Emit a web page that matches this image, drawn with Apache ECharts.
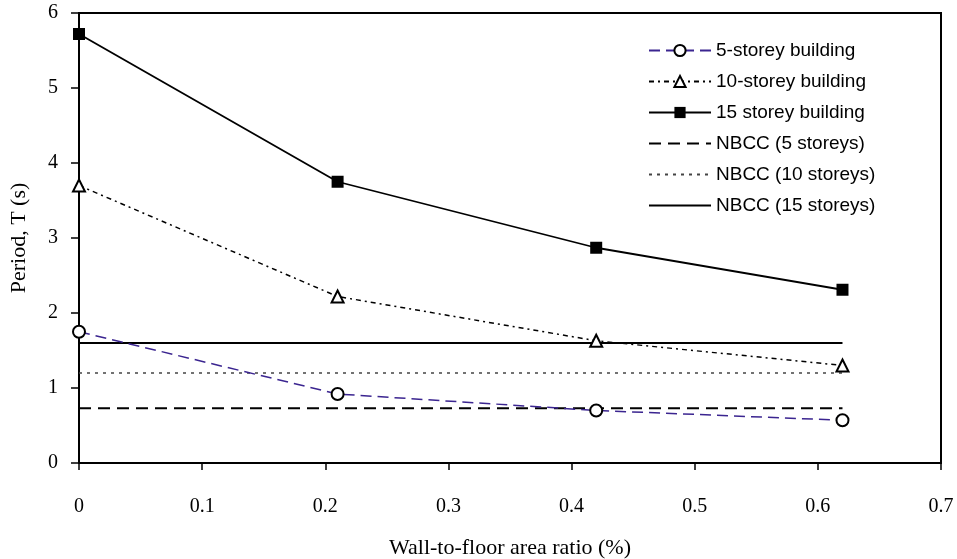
<!DOCTYPE html>
<html>
<head>
<meta charset="utf-8">
<script src="https://cdn.jsdelivr.net/npm/echarts@6/dist/echarts.min.js"></script>
<style>
  html, body { margin: 0; padding: 0; background: #fff; }
  #main { width: 957px; height: 559px; }
</style>
</head>
<body>
<div id="main"></div>
<script>
// wall-to-floor area ratio (%)
var ratios = [0, 0.21, 0.42, 0.62];
var storey5 = [1.75, 0.92, 0.70, 0.57];
var storey10 = [3.70, 2.22, 1.63, 1.30];
var storey15 = [5.72, 3.75, 2.87, 2.31];
// NBCC code values, drawn flat across the range
var nbccX = [0, 0.62];
var nbcc5 = 0.73;
var nbcc10 = 1.20;
var nbcc15 = 1.60;

function pairs(xs, ys) {
	return xs.map(function (x, i) { return [x, ys[i]]; });
}
function flat(xs, v) {
	return xs.map(function (x) { return [x, v]; });
}

var myChart = echarts.init(document.getElementById('main'));
var serif = '"Liberation Serif", "Times New Roman", serif';
var sans = '"Liberation Sans", Arial, sans-serif';
// plain line in the legend, no marker
var noMark = { color: 'rgba(0,0,0,0)', borderWidth: 0 };

var option = {
	animation: false,
	backgroundColor: '#fff',
	grid: {
		left: 79, right: 16, top: 13, bottom: 96,
		outerBoundsMode: 'none',
		show: true, borderColor: '#000', borderWidth: 2, backgroundColor: 'transparent'
	},
	legend: {
		orient: 'vertical',
		left: 643,
		top: 36,
		itemWidth: 62,
		itemHeight: 14,
		itemGap: 12,
		textStyle: { fontFamily: sans, fontSize: 19, color: '#000', lineHeight: 19 },
		data: ['5-storey building', '10-storey building', '15 storey building',
			'NBCC (5 storeys)', 'NBCC (10 storeys)', 'NBCC (15 storeys)']
	},
	xAxis: {
		type: 'value',
		min: 0, max: 0.7, interval: 0.1,
		name: 'Wall-to-floor area ratio (%)',
		nameLocation: 'middle',
		nameGap: 74,
		nameTextStyle: { fontFamily: serif, fontSize: 22, color: '#000' },
		axisLine: { lineStyle: { color: '#000', width: 2 } },
		axisTick: { show: true, inside: false, length: 7, lineStyle: { color: '#000', width: 1.5 } },
		axisLabel: { margin: 34, fontFamily: serif, fontSize: 20, color: '#000' },
		splitLine: { show: false }
	},
	yAxis: {
		type: 'value',
		min: 0, max: 6, interval: 1,
		name: 'Period, T (s)',
		nameLocation: 'middle',
		nameGap: 49,
		nameTextStyle: { fontFamily: serif, fontSize: 22, color: '#000' },
		axisLine: { lineStyle: { color: '#000', width: 2 } },
		axisTick: { show: true, inside: false, length: 8, lineStyle: { color: '#000', width: 1.5 } },
		axisLabel: { margin: 21, fontFamily: serif, fontSize: 20, color: '#000' },
		splitLine: { show: false }
	},
	series: [
		{
			name: '5-storey building', type: 'line',
			data: pairs(ratios, storey5),
			symbol: 'emptyCircle', symbolSize: 12,
			itemStyle: { color: '#000', borderWidth: 1.8 },
			lineStyle: { color: '#3b2590', width: 1.5, type: [11, 6] },
			z: 5
		},
		{
			name: '10-storey building', type: 'line',
			data: pairs(ratios, storey10),
			symbol: 'emptyTriangle', symbolSize: 12,
			itemStyle: { color: '#000', borderWidth: 1.8 },
			lineStyle: { color: '#000', width: 1.5, type: [5, 4, 2, 4] },
			z: 5
		},
		{
			name: '15 storey building', type: 'line',
			data: pairs(ratios, storey15),
			symbol: 'rect', symbolSize: 12,
			itemStyle: { color: '#000' },
			lineStyle: { color: '#000', width: 1.8 },
			z: 5
		},
		{
			name: 'NBCC (5 storeys)', type: 'line',
			data: flat(nbccX, nbcc5),
			symbol: 'circle', showSymbol: false,
			itemStyle: noMark,
			lineStyle: { color: '#000', width: 1.8, type: [12, 7] }
		},
		{
			name: 'NBCC (10 storeys)', type: 'line',
			data: flat(nbccX, nbcc10),
			symbol: 'circle', showSymbol: false,
			itemStyle: noMark,
			lineStyle: { color: '#444', width: 1.5, type: [3, 5] }
		},
		{
			name: 'NBCC (15 storeys)', type: 'line',
			data: flat(nbccX, nbcc15),
			symbol: 'circle', showSymbol: false,
			itemStyle: noMark,
			lineStyle: { color: '#000', width: 1.8 }
		}
	]
};
myChart.setOption(option);
</script>
</body>
</html>
